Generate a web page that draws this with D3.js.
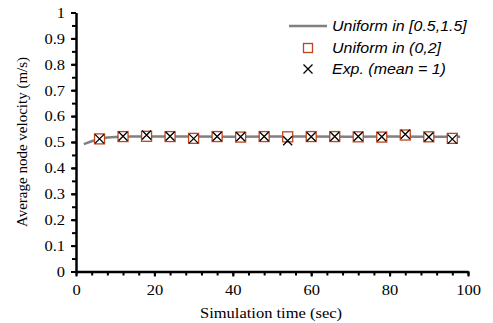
<!DOCTYPE html>
<html>
<head>
<meta charset="utf-8">
<script src="https://cdn.jsdelivr.net/npm/d3@7"></script>
<style>
  body { margin: 0; background: #fff; }
  svg { display: block; }
</style>
</head>
<body>
<svg id="chart"></svg>
<script>
// series: Uniform in [0.5,1.5] (line)
const lineTime = [2, 4, 6, 8, 10, 14, 20, 30, 40, 50, 60, 70, 80, 90, 98];
const lineVelocity = [0.492, 0.503, 0.512, 0.517, 0.519, 0.521, 0.521, 0.521, 0.520, 0.521, 0.521, 0.520, 0.521, 0.520, 0.520];

// markers sampled every 6 s
const sampleTime = [6, 12, 18, 24, 30, 36, 42, 48, 54, 60, 66, 72, 78, 84, 90, 96];
const uniform02 = [0.512, 0.521, 0.522, 0.521, 0.514, 0.521, 0.519, 0.521, 0.520, 0.521, 0.521, 0.520, 0.519, 0.527, 0.520, 0.514];
const expMean1 = [0.512, 0.522, 0.527, 0.522, 0.513, 0.521, 0.520, 0.521, 0.505, 0.520, 0.521, 0.521, 0.520, 0.530, 0.519, 0.511];

const xTicks = [0, 20, 40, 60, 80, 100];
const yTicks = [0, 0.1, 0.2, 0.3, 0.4, 0.5, 0.6, 0.7, 0.8, 0.9, 1];
const legendLabels = ['Uniform in [0.5,1.5]', 'Uniform in (0,2]', 'Exp. (mean = 1)'];

const width = 493, height = 323;
const svg = d3.select('#chart').attr('width', width).attr('height', height);

const x = d3.scaleLinear().domain([0, 100]).range([76, 468]);
const y = d3.scaleLinear().domain([0, 1]).range([271.5, 12.5]);

const serif = '"Liberation Serif", "Times New Roman", serif';
const sans = '"Liberation Sans", Arial, sans-serif';

// the original picture is a bit wider than tall, so text is stretched sideways
const stretch = (sel, k) => sel.each(function() {
  const w = this.getComputedTextLength();
  d3.select(this).attr('textLength', w * k).attr('lengthAdjust', 'spacingAndGlyphs');
});

// minor ticks
svg.append('g')
  .attr('transform', `translate(0,${y(0)})`)
  .call(d3.axisBottom(x).tickValues(d3.range(0, 101, 4)).tickSize(4).tickFormat(''))
  .call(g => g.select('.domain').remove())
  .call(g => g.selectAll('line').attr('stroke', '#000').attr('stroke-width', 2));
svg.append('g')
  .attr('transform', `translate(${x(0)},0)`)
  .call(d3.axisLeft(y).tickValues(d3.range(0, 1.001, 0.05)).tickSize(4).tickFormat(''))
  .call(g => g.select('.domain').remove())
  .call(g => g.selectAll('line').attr('stroke', '#000').attr('stroke-width', 2));

// major axes
const xAxis = svg.append('g')
  .attr('transform', `translate(0,${y(0)})`)
  .call(d3.axisBottom(x).tickValues(xTicks).tickSize(5).tickSizeOuter(0).tickPadding(8));
const yAxis = svg.append('g')
  .attr('transform', `translate(${x(0)},0)`)
  .call(d3.axisLeft(y).tickValues(yTicks).tickSize(5).tickSizeOuter(0).tickPadding(6).tickFormat(d3.format('')));

[xAxis, yAxis].forEach(g => {
  g.attr('font-family', serif).attr('font-size', 15);
  g.select('.domain').attr('stroke', '#000').attr('stroke-width', 2.5);
  g.selectAll('line').attr('stroke', '#000').attr('stroke-width', 2);
  g.selectAll('text').attr('fill', '#000').call(stretch, 1.1);
});

// line series
svg.append('path')
  .datum(lineTime.map((t, i) => [t, lineVelocity[i]]))
  .attr('fill', 'none')
  .attr('stroke', '#808080')
  .attr('stroke-width', 2.5)
  .attr('d', d3.line().x(d => x(d[0])).y(d => y(d[1])));

// squares
const sq = 10;
svg.append('g')
  .selectAll('rect')
  .data(sampleTime.map((t, i) => [t, uniform02[i]]))
  .enter().append('rect')
  .attr('x', d => x(d[0]) - sq / 2)
  .attr('y', d => y(d[1]) - sq / 2)
  .attr('width', sq)
  .attr('height', sq)
  .attr('fill', '#fff')
  .attr('stroke', '#c0441a')
  .attr('stroke-width', 1.3);

// crosses
const cr = 4.5;
const crossPath = (cx, cy) => `M${cx - cr},${cy - cr}L${cx + cr},${cy + cr}M${cx - cr},${cy + cr}L${cx + cr},${cy - cr}`;
svg.append('g')
  .selectAll('path')
  .data(sampleTime.map((t, i) => [t, expMean1[i]]))
  .enter().append('path')
  .attr('d', d => crossPath(x(d[0]), y(d[1])))
  .attr('stroke', '#000')
  .attr('stroke-width', 1.3)
  .attr('fill', 'none');

// legend
const lg = svg.append('g');
const rowY = [26, 48, 69];
lg.append('line')
  .attr('x1', 289).attr('x2', 327).attr('y1', rowY[0]).attr('y2', rowY[0])
  .attr('stroke', '#808080').attr('stroke-width', 2.5);
lg.append('rect')
  .attr('x', 308 - 4.5).attr('y', rowY[1] - 4.5).attr('width', 9).attr('height', 9)
  .attr('fill', '#fff').attr('stroke', '#c0441a').attr('stroke-width', 1.3);
lg.append('path')
  .attr('d', crossPath(308, rowY[2]))
  .attr('stroke', '#000').attr('stroke-width', 1.3);
lg.selectAll('text')
  .data(legendLabels)
  .enter().append('text')
  .attr('x', 332)
  .attr('y', (d, i) => rowY[i])
  .attr('dy', '0.35em')
  .style('font-family', sans)
  .style('font-style', 'italic')
  .style('font-size', '14.5px')
  .text(d => d)
  .call(stretch, 1.1);

// axis titles
svg.append('text')
  .attr('x', x(50) - 1)
  .attr('y', 318)
  .style('text-anchor', 'middle')
  .style('font-family', serif)
  .style('font-size', '15px')
  .text('Simulation time (sec)')
  .call(stretch, 1.1);
svg.append('text')
  .attr('transform', 'rotate(-90)')
  .attr('x', -142)
  .attr('y', 27)
  .style('text-anchor', 'middle')
  .style('font-family', serif)
  .style('font-size', '15px')
  .text('Average node velocity (m/s)');
</script>
</body>
</html>
